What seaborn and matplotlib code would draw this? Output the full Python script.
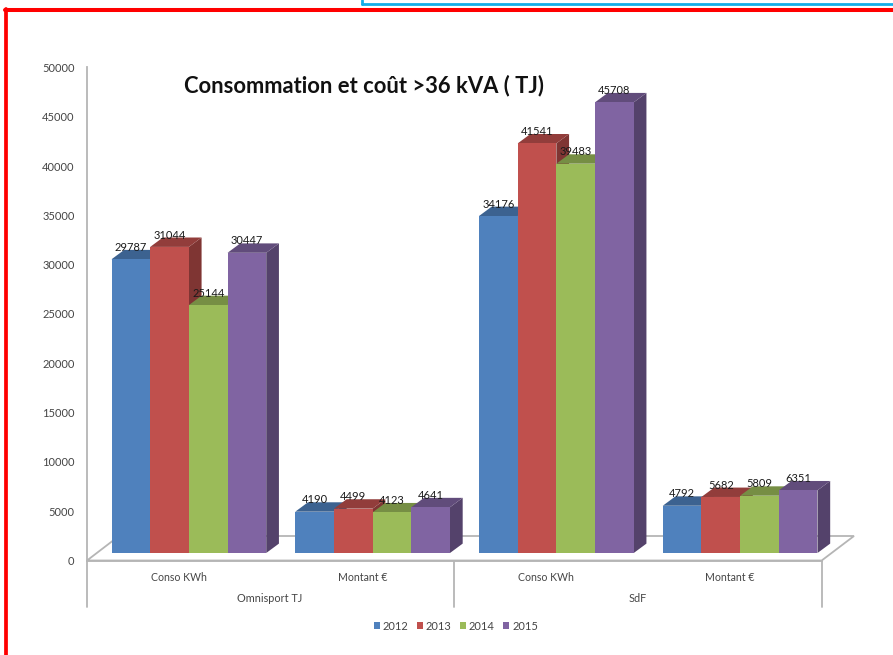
import pandas as pd
import matplotlib
matplotlib.use("Agg")
import matplotlib.pyplot as plt
from matplotlib.colors import to_rgb
from matplotlib.lines import Line2D
from matplotlib.patches import Polygon
import seaborn as sns

# -----------------------------
# Data
# -----------------------------
sites = ["Omnisport TJ", "SdF"]
metrics = ["Conso KWh", "Montant €", "Conso KWh", "Montant €"]
years = ["2012", "2013", "2014", "2015"]
values_2012 = [29787, 4190, 34176, 4792]
values_2013 = [31044, 4499, 41541, 5682]
values_2014 = [25144, 4123, 39483, 5809]
values_2015 = [30447, 4641, 45708, 6351]
colors = ["#4F81BD", "#C0504D", "#9BBB59", "#8064A2"]
y_ticks = list(range(0, 50001, 5000))

rows = []
for year, vals in zip(years, [values_2012, values_2013, values_2014, values_2015]):
    for slot, (metric, v) in enumerate(zip(metrics, vals)):
        rows.append((slot, metric, year, v))
df = pd.DataFrame(rows, columns=["slot", "metric", "year", "value"])

# -----------------------------
# Plot
# -----------------------------
sns.set_style("white")
plt.rcParams["font.family"] = ["Lato", "DejaVu Sans"]

W, H = 893, 655
fig = plt.figure(figsize=(W / 100, H / 100), dpi=100)


def fx(x):
    return x / W


def fy(y):
    return 1 - y / H


def px_axes(left, right, top, bottom):
    return fig.add_axes([fx(left), fy(bottom), (right - left) / W, (bottom - top) / H])


GREY = "#b5b5b5"
TEXT = "#454545"

# axis frame: front edge of the floor, with the value scale
axis_ax = px_axes(87, 821.7, 67.5, 560.5)
axis_ax.set_xlim(-0.5, 3.5)
axis_ax.set_ylim(0, 50000)
axis_ax.set_yticks(y_ticks)
axis_ax.set_xticks(range(4))
axis_ax.set_xticklabels(metrics)
axis_ax.tick_params(axis="both", length=0, labelsize=8, labelcolor=TEXT)
axis_ax.tick_params(axis="x", pad=8, labelsize=7.6)
axis_ax.tick_params(axis="y", pad=9)
sns.despine(ax=axis_ax, top=True, right=True)
for side in ["left", "bottom"]:
    axis_ax.spines[side].set_color(GREY)
    axis_ax.spines[side].set_linewidth(1.3)
axis_ax.patch.set_alpha(0)

# floor of the 3D box
floor = [(87, 560.5), (821.7, 560.5), (854, 536), (119, 536)]
axis_ax.add_patch(Polygon([(fx(x), fy(y)) for x, y in floor], closed=True, fill=False,
                          edgecolor=GREY, linewidth=1.3, transform=fig.transFigure,
                          clip_on=False))

# two level category axis
for x in [87, 454.4, 821.7]:
    axis_ax.add_line(Line2D([fx(x), fx(x)], [fy(560.5), fy(606.5)], color=GREY, linewidth=1.3,
                            transform=fig.transFigure, clip_on=False))
for name, x in zip(sites, [270, 637.7]):
    fig.text(fx(x), fy(599), name, ha="center", va="center", fontsize=7.8, color=TEXT)

# bars, on axes shifted to the front of the floor
ax = px_axes(97, 832, 60, 553)
ax.patch.set_alpha(0)
ax.set_zorder(2)
sns.barplot(data=df, x="slot", y="value", hue="year", palette=colors, width=0.842,
            saturation=1, ax=ax, errorbar=None, linewidth=0)
ax.set_xlim(-0.5, 3.5)
ax.set_ylim(0, 50000)
ax.set_xlabel("")
ax.set_ylabel("")
ax.set_xticks([])
ax.set_yticks([])
sns.despine(ax=ax, left=True, bottom=True)

dx = 12.7 / (735 / 4)
dy = 9.4 / (493 / 50000)


def shade(color, k):
    r, g, b = to_rgb(color)
    return (r * k, g * k, b * k)


bars = []
for container, color in zip(ax.containers, colors):
    for bar in container:
        bars.append((bar.get_x(), bar, color))
bars.sort(key=lambda t: t[0])

for i, (x0, bar, color) in enumerate(bars):
    w = bar.get_width()
    h = bar.get_height()
    z = 3 + i * 0.01
    x1 = x0 + w
    ax.add_patch(Polygon([(x1, 0), (x1 + dx, dy), (x1 + dx, h + dy), (x1, h)], closed=True,
                         facecolor=shade(color, 0.66), edgecolor="none", zorder=z, clip_on=False))
    ax.add_patch(Polygon([(x0, h), (x0 + dx, h + dy), (x1 + dx, h + dy), (x1, h)], closed=True,
                         facecolor=shade(color, 0.76), edgecolor="none", zorder=z + 0.001,
                         clip_on=False))
    bar.set_zorder(z + 0.002)

for container in ax.containers:
    for label in ax.bar_label(container, padding=4.6, fontsize=8, color="#1a1a1a"):
        label.set_zorder(10)

# legend
sns.move_legend(ax, loc="center", bbox_to_anchor=(fx(456), fy(626)),
                bbox_transform=fig.transFigure, ncol=4, frameon=False, title=None,
                fontsize=8, handlelength=0.5, handleheight=0.55, handletextpad=0.3,
                columnspacing=0.75, labelcolor=TEXT)

fig.text(fx(363.5), fy(86), "Consommation et coût >36 kVA ( TJ)", ha="center", va="center",
         fontsize=15.8, fontweight="bold", color="#111111")

# frames around the picture
fig.add_artist(Line2D([fx(6.2), fx(6.2)], [fy(8.5), 0], color="#ff0000", linewidth=2.7))
fig.add_artist(Line2D([fx(4.5), 1], [fy(10.4), fy(10.4)], color="#ff0000", linewidth=2.9))
fig.add_artist(Line2D([fx(362), 1], [fy(3.5), fy(3.5)], color="#12aee8", linewidth=2))
fig.add_artist(Line2D([fx(362), fx(362)], [fy(3.5), 1], color="#12aee8", linewidth=2))

plt.savefig("out.png", dpi=100)
